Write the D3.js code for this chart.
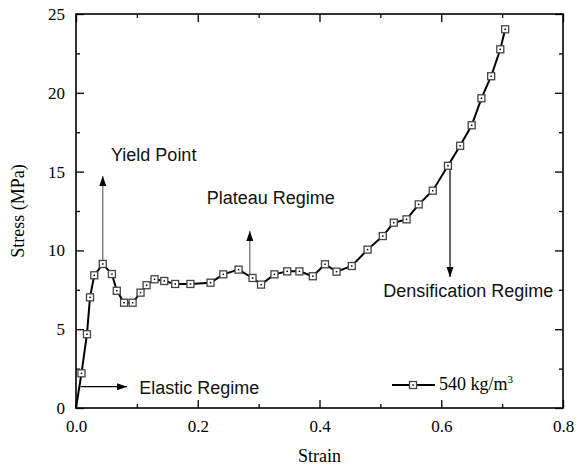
<!DOCTYPE html>
<html>
<head>
<meta charset="utf-8">
<script src="https://cdn.jsdelivr.net/npm/d3@7"></script>
<style>
  html, body { margin: 0; padding: 0; background: #fff; }
  svg { display: block; }
</style>
</head>
<body>
<div id="chart"></div>
<script>
// ---- data ----
const strain = [0.000, 0.009, 0.018, 0.023, 0.030, 0.044, 0.059, 0.067, 0.079, 0.093,
  0.106, 0.116, 0.129, 0.145, 0.163, 0.188, 0.221, 0.242, 0.267, 0.290,
  0.304, 0.326, 0.347, 0.367, 0.389, 0.409, 0.428, 0.453, 0.479, 0.504,
  0.522, 0.543, 0.563, 0.586, 0.611, 0.631, 0.650, 0.666, 0.682, 0.697, 0.705];
const stress = [0.00, 2.20, 4.68, 7.02, 8.42, 9.14, 8.50, 7.44, 6.68, 6.68,
  7.32, 7.79, 8.17, 8.06, 7.87, 7.87, 7.95, 8.48, 8.78, 8.25,
  7.83, 8.48, 8.67, 8.67, 8.36, 9.12, 8.65, 9.01, 10.05, 10.91,
  11.76, 11.97, 12.92, 13.79, 15.37, 16.64, 17.94, 19.65, 21.05, 22.76, 24.03];
const seriesName = "540 kg/m";
const xTicks = [0.0, 0.2, 0.4, 0.6, 0.8];
const yTicks = [0, 5, 10, 15, 20, 25];
const xMinor = [0.1, 0.3, 0.5, 0.7];
const yMinor = [2.5, 7.5, 12.5, 17.5, 22.5];
const annoText = ["Yield Point", "Plateau Regime", "Densification Regime", "Elastic Regime"];
const annoTextPos = [[0.0575, 15.69], [0.2147, 12.94], [0.5048, 7.06], [0.104, 0.89]];
const annoArrowFrom = [[0.044, 9.14], [0.2855, 8.31], [0.6144, 15.37], [0.0077, 1.35]];
const annoArrowTo = [[0.044, 14.72], [0.2855, 11.23], [0.6144, 8.31], [0.0838, 1.35]];

// ---- layout ----
const W = 579, H = 467;
const margin = {left: 76, right: 16, top: 14, bottom: 59};
const iw = W - margin.left - margin.right;
const ih = H - margin.top - margin.bottom;

const svg = d3.select("#chart").append("svg").attr("width", W).attr("height", H);
const defs = svg.append("defs");
defs.append("marker").attr("id", "ah").attr("viewBox", "0 0 10 10")
  .attr("refX", 10).attr("refY", 5).attr("markerWidth", 10).attr("markerHeight", 10)
  .attr("markerUnits", "userSpaceOnUse").attr("orient", "auto")
  .append("path").attr("d", "M0,1.5 L10,5 L0,8.5 Z").attr("fill", "#000");

const g = svg.append("g").attr("transform", `translate(${margin.left},${margin.top})`);

const x = d3.scaleLinear().domain([0, 0.8]).range([0, iw]);
const y = d3.scaleLinear().domain([0, 25]).range([ih, 0]);

const serif = "'Liberation Serif','Times New Roman',serif";
const sans = "'Liberation Sans',Arial,sans-serif";

function styleAxis(sel, showLabels) {
  sel.select(".domain").remove();
  sel.selectAll(".tick line").attr("stroke", "#000").attr("stroke-width", 1.3);
  sel.selectAll(".tick text").attr("font-family", serif).attr("font-size", 17).attr("fill", "#000");
  if (!showLabels) sel.selectAll(".tick text").remove();
}

// major ticks (inward)
const gxb = g.append("g").attr("transform", `translate(0,${ih})`)
  .call(d3.axisBottom(x).tickValues(xTicks).tickSize(-8).tickPadding(12).tickFormat(d3.format(".1f")));
styleAxis(gxb, true);
const gxbm = g.append("g").attr("transform", `translate(0,${ih})`)
  .call(d3.axisBottom(x).tickValues(xMinor).tickSize(-4).tickFormat(""));
styleAxis(gxbm, false);
const gxt = g.append("g").call(d3.axisTop(x).tickValues(xTicks).tickSize(-8).tickFormat(""));
styleAxis(gxt, false);
const gxtm = g.append("g").call(d3.axisTop(x).tickValues(xMinor).tickSize(-4).tickFormat(""));
styleAxis(gxtm, false);

const gyl = g.append("g").call(d3.axisLeft(y).tickValues(yTicks).tickSize(-8).tickPadding(11).tickFormat(d3.format("d")));
styleAxis(gyl, true);
const gylm = g.append("g").call(d3.axisLeft(y).tickValues(yMinor).tickSize(-4).tickFormat(""));
styleAxis(gylm, false);
const gyr = g.append("g").attr("transform", `translate(${iw},0)`)
  .call(d3.axisRight(y).tickValues(yTicks).tickSize(-8).tickFormat(""));
styleAxis(gyr, false);
const gyrm = g.append("g").attr("transform", `translate(${iw},0)`)
  .call(d3.axisRight(y).tickValues(yMinor).tickSize(-4).tickFormat(""));
styleAxis(gyrm, false);

// frame
g.append("rect").attr("x", 0).attr("y", 0).attr("width", iw).attr("height", ih)
  .attr("fill", "none").attr("stroke", "#000").attr("stroke-width", 1.6);

// axis titles
svg.append("text").attr("x", margin.left + iw / 2).attr("y", 462)
  .attr("text-anchor", "middle").attr("font-family", serif).attr("font-size", 18).text("Strain");
svg.append("text").attr("transform", `translate(24,${margin.top + ih / 2}) rotate(-90)`)
  .attr("text-anchor", "middle").attr("font-family", serif).attr("font-size", 18).text("Stress (MPa)");

// annotations arrows
annoText.forEach((t, i) => {
  const gray = i < 2;
  g.append("line")
    .attr("x1", x(annoArrowFrom[i][0])).attr("y1", y(annoArrowFrom[i][1]))
    .attr("x2", x(annoArrowTo[i][0])).attr("y2", y(annoArrowTo[i][1]))
    .attr("stroke", gray ? "#666" : "#000").attr("stroke-width", 1.2)
    .attr("marker-end", "url(#ah)");
});

// data line
const pts = strain.map((s, i) => [s, stress[i]]);
g.append("path").datum(pts)
  .attr("d", d3.line().x(d => x(d[0])).y(d => y(d[1])))
  .attr("fill", "none").attr("stroke", "#000").attr("stroke-width", 2);

// markers
const ms = 7;
const mk = g.selectAll(".mk").data(pts.slice(1)).enter().append("g")
  .attr("transform", d => `translate(${x(d[0])},${y(d[1])})`);
mk.append("rect").attr("x", -ms / 2).attr("y", -ms / 2).attr("width", ms).attr("height", ms)
  .attr("fill", "#fff").attr("stroke", "#444").attr("stroke-width", 1.3);
mk.append("rect").attr("x", -0.75).attr("y", -0.75).attr("width", 1.5).attr("height", 1.5).attr("fill", "#000");

// annotation texts
annoText.forEach((t, i) => {
  g.append("text").attr("x", x(annoTextPos[i][0])).attr("y", y(annoTextPos[i][1]))
    .attr("font-family", sans).attr("font-size", 18).attr("fill", "#111").text(t);
});

// legend
const lg = svg.append("g").attr("transform", "translate(392,385)");
lg.append("line").attr("x1", 0).attr("x2", 43).attr("y1", 0).attr("y2", 0)
  .attr("stroke", "#000").attr("stroke-width", 2);
lg.append("rect").attr("x", 21 - ms / 2).attr("y", -ms / 2).attr("width", ms).attr("height", ms)
  .attr("fill", "#fff").attr("stroke", "#444").attr("stroke-width", 1.3);
lg.append("rect").attr("x", 20.25).attr("y", -0.75).attr("width", 1.5).attr("height", 1.5).attr("fill", "#000");
const lt = lg.append("text").attr("x", 47).attr("y", 5).attr("font-family", serif).attr("font-size", 18);
lt.append("tspan").text(seriesName);
lt.append("tspan").attr("dy", -7).attr("font-size", 11).text("3");
</script>
</body>
</html>
